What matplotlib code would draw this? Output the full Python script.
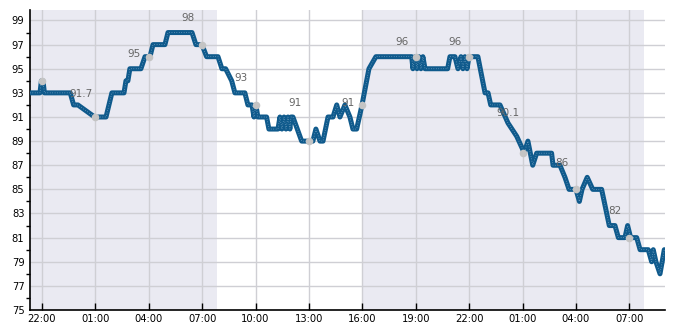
import matplotlib
matplotlib.use("Agg")
import matplotlib.pyplot as plt
from matplotlib.ticker import MultipleLocator

# hours since 22:00 (day 1)
t = [-0.67, -0.11, -0.03, 0.06, 0.14, 1.59, 1.78, 2.02, 2.96, 3.60, 3.93, 4.61, 4.72, 4.83,
     4.94, 5.56, 5.79, 6.07, 6.24, 6.91, 7.08, 8.43, 8.65, 8.99, 9.25, 9.89, 10.11, 10.32,
     10.66, 10.84, 11.40, 11.57, 11.80, 11.91, 12.02, 12.13, 12.62, 12.75, 13.26, 13.37,
     13.48, 13.60, 13.71, 13.82, 13.93, 13.99, 14.10, 14.59, 15.00, 15.22, 15.39, 15.62,
     15.79, 16.07, 16.35, 16.56, 16.74, 17.02, 17.30, 17.47, 17.68, 17.98, 18.37, 18.76,
     20.77, 20.84, 20.96, 21.07, 21.18, 21.29, 21.40, 21.52, 22.79, 22.92, 23.20, 23.37,
     23.54, 23.65, 23.76, 23.88, 23.99, 24.49, 24.89, 25.06, 25.21, 25.73, 26.18, 26.67,
     27.01, 27.08, 27.30, 27.57, 27.79, 28.63, 28.71, 29.10, 29.38, 29.61, 30.00, 30.19,
     30.34, 30.63, 30.94, 31.44, 31.87, 32.19, 32.38, 32.75, 32.90, 33.07, 33.41, 33.60,
     34.06, 34.25, 34.34, 34.49, 34.72, 34.96]
v = [93, 93, 94, 94, 93, 93, 92, 92, 91, 91, 93, 93, 94, 94,
     95, 95, 96, 96, 97, 97, 98, 98, 97, 97, 96, 96, 95, 95,
     94, 93, 93, 92, 92, 91, 92, 91, 91, 90, 90, 91,
     90, 91, 90, 91, 90, 91, 91, 89, 89, 89, 90, 89,
     89, 91, 91, 92, 91, 92, 91, 90, 90, 92, 95, 96,
     96, 95, 96, 95, 96, 95, 96, 95, 95, 96, 96, 95,
     96, 95, 96, 95, 96, 96, 93, 93, 92, 92, 90.5, 89.4,
     88.3, 88, 89, 87, 88, 88, 87, 87, 86, 85, 85, 84,
     85, 86, 85, 85, 82, 82, 81, 81, 82, 81, 81, 80,
     80, 79, 80, 79, 78, 80]

tick_hours = [0, 3, 6, 9, 12, 15, 18, 21, 24, 27, 30, 33]
tick_labels = ["22:00", "01:00", "04:00", "07:00", "10:00", "13:00",
               "16:00", "19:00", "22:00", "01:00", "04:00", "07:00"]
marker_values = [94, 91, 96, 97, 92, 89, 92, 96, 96, 88, 85, 81]
label_values = ["91.7", "95", "98", "93", "91", "91", "96", "96", "90.1", "86", "82"]
night_spans = [(-0.67, 9.83), (18.0, 33.83)]

fig = plt.figure(figsize=(6.85, 3.3), dpi=100)
ax = fig.add_axes([30/685, 20/330, 635/685, 300/330])
ax.set_xlim(-0.67, 35.0)
ax.set_ylim(75, 99.87)

for a, b in night_spans:
    ax.axvspan(a, b, color="#eaeaf2", zorder=0, lw=0)

ax.grid(True, color="#cfcfd4", lw=1.0, zorder=1)
ax.set_axisbelow(True)

ax.plot(t, v, color="#0f5a8c", lw=3.6, zorder=3,
        solid_joinstyle="round", solid_capstyle="round")
ax.plot(t, v, color="#8fb6d2", lw=0.5, ls=(0, (1, 2.5)), zorder=4,
        dash_joinstyle="round")

ax.scatter(tick_hours, marker_values, s=30, color="#c4c4c4", zorder=5, lw=0)
for h, lab in zip(tick_hours[1:], label_values):
    ax.text(h - 0.8, float(lab) + 1.2, lab, ha="center", va="center",
            fontsize=7.5, color="#666666", zorder=6)

ax.set_xticks(tick_hours)
ax.set_xticklabels(tick_labels)
ax.set_yticks(list(range(75, 100, 2)))
ax.set_yticks(list(range(76, 100, 2)), minor=True)
ax.tick_params(axis="both", direction="in", labelsize=7.2, colors="black")
ax.tick_params(axis="x", length=5, width=1, pad=3)
ax.tick_params(axis="y", which="major", length=0, pad=4)
ax.tick_params(axis="y", which="minor", length=3, width=1)

for s in ["top", "right"]:
    ax.spines[s].set_visible(False)
for s in ["left", "bottom"]:
    ax.spines[s].set_color("black")
    ax.spines[s].set_linewidth(1.2)

fig.savefig("out.png", dpi=100)
